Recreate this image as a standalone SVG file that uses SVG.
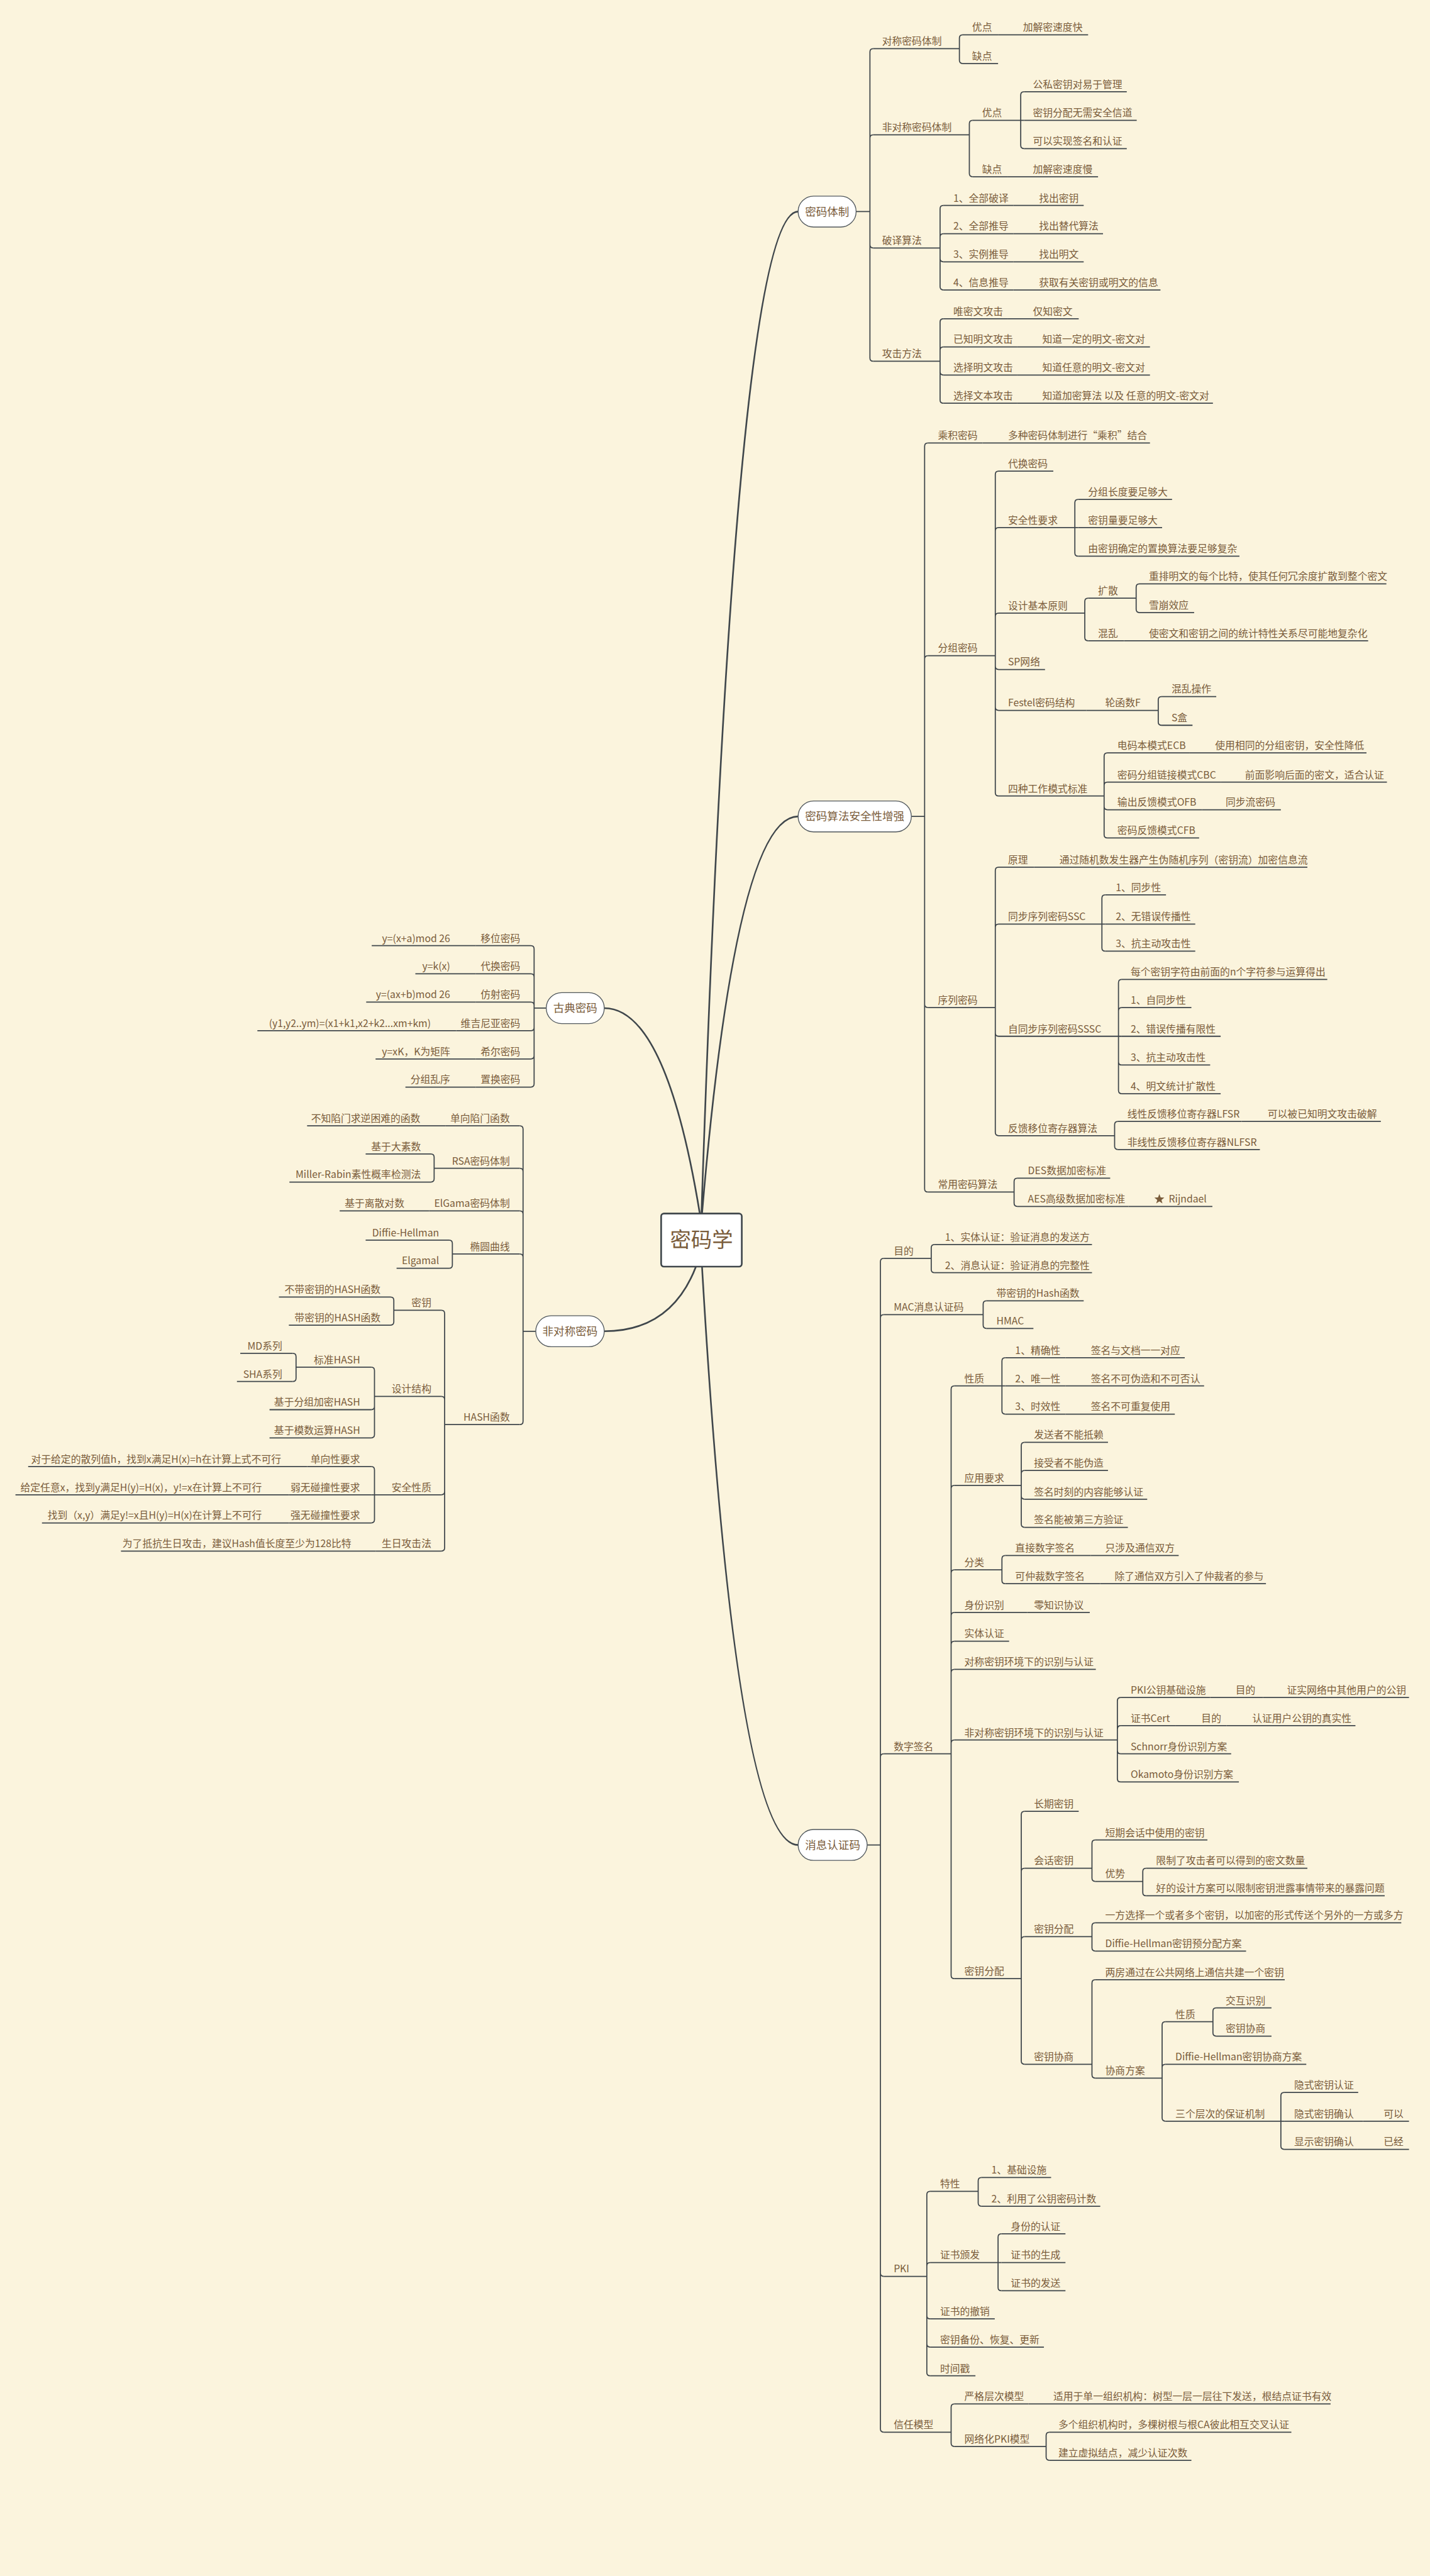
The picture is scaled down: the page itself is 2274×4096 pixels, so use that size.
<svg xmlns="http://www.w3.org/2000/svg" width="2274" height="4096" viewBox="0 0 2274 4096">
<style>
text{font-family:"Noto Sans CJK SC","Noto Sans",sans-serif;font-size:18px;fill:#7a5c3b}
.e{text-anchor:end}
.m{font-size:20px;text-anchor:middle}
.root{font-size:38px;text-anchor:middle}
path{fill:none;stroke:#3f464b;stroke-width:2}
.cv{stroke-width:3}
.pill{fill:#fff;stroke:#50575c;stroke-width:1.5}
.rootbox{fill:#fff;stroke:#3f464b;stroke-width:3}
.star{fill:#7a5c3b}
</style>
<rect width="2274" height="4096" fill="#fbf4dd"/>
<g transform="scale(0.87833)">
<g id="connectors">
<path class="cv" d="M1270 2197Q1331 383 1445 383M1271 2197Q1332 1478 1445 1478M1271 2293Q1332 3340 1445 3340M1267 2197Q1206 1825 1094 1825M1260 2293Q1215 2410 1094 2410"/>
<path d="M1550 383H1575M1575 383V94Q1575 88 1581 88M1575 383V250Q1575 244 1581 244M1575 383V443Q1575 449 1581 449M1575 383V648Q1575 654 1581 654"/>
<path d="M1737 88V69Q1737 63 1743 63M1737 88V109Q1737 115 1743 115"/>
<path d="M1755 244V224Q1755 218 1761 218M1755 244V314Q1755 320 1761 320"/>
<path d="M1848 218V172Q1848 166 1854 166M1848 218H1854M1848 218V263Q1848 269 1854 269"/>
<path d="M1702 449V378Q1702 372 1708 372M1702 449V429Q1702 423 1708 423M1702 449V468Q1702 474 1708 474M1702 449V519Q1702 525 1708 525"/>
<path d="M1702 654V583Q1702 577 1708 577M1702 654V634Q1702 628 1708 628M1702 654V673Q1702 679 1708 679M1702 654V724Q1702 730 1708 730"/>
<path d="M1650 1478H1674M1674 1478V808Q1674 802 1680 802M1674 1478V1193Q1674 1187 1680 1187M1674 1478V1818Q1674 1824 1680 1824M1674 1478V2152Q1674 2158 1680 2158"/>
<path d="M1802 1187V859Q1802 853 1808 853M1802 1187V961Q1802 955 1808 955M1802 1187V1116Q1802 1110 1808 1110M1802 1187V1206Q1802 1212 1808 1212M1802 1187V1280Q1802 1286 1808 1286M1802 1187V1435Q1802 1441 1808 1441"/>
<path d="M1946 955V910Q1946 904 1952 904M1946 955H1952M1946 955V1001Q1946 1007 1952 1007"/>
<path d="M1964 1110V1089Q1964 1083 1970 1083M1964 1110V1154Q1964 1160 1970 1160"/>
<path d="M2057 1083V1063Q2057 1057 2063 1057M2057 1083V1103Q2057 1109 2063 1109"/>
<path d="M2097 1286V1267Q2097 1261 2103 1261M2097 1286V1307Q2097 1313 2103 1313"/>
<path d="M1999 1441V1369Q1999 1363 2005 1363M1999 1441V1422Q1999 1416 2005 1416M1999 1441V1460Q1999 1466 2005 1466M1999 1441V1511Q1999 1517 2005 1517"/>
<path d="M1802 1824V1576Q1802 1570 1808 1570M1802 1824V1679Q1802 1673 1808 1673M1802 1824V1870Q1802 1876 1808 1876M1802 1824V2050Q1802 2056 1808 2056"/>
<path d="M1995 1673V1626Q1995 1620 2001 1620M1995 1673H2001M1995 1673V1716Q1995 1722 2001 1722"/>
<path d="M2025 1876V1779Q2025 1773 2031 1773M2025 1876V1830Q2025 1824 2031 1824M2025 1876H2031M2025 1876V1922Q2025 1928 2031 1928M2025 1876V1974Q2025 1980 2031 1980"/>
<path d="M2018 2056V2036Q2018 2030 2024 2030M2018 2056V2075Q2018 2081 2024 2081"/>
<path d="M1836 2158V2139Q1836 2133 1842 2133M1836 2158V2178Q1836 2184 1842 2184"/>
<path d="M1570 3340H1594M1594 3340V2284Q1594 2278 1600 2278M1594 3340V2386Q1594 2380 1600 2380M1594 3340V3181Q1594 3175 1600 3175M1594 3340V4115Q1594 4121 1600 4121M1594 3340V4397Q1594 4403 1600 4403"/>
<path d="M1686 2278V2259Q1686 2253 1692 2253M1686 2278V2298Q1686 2304 1692 2304"/>
<path d="M1780 2380V2361Q1780 2355 1786 2355M1780 2380V2399Q1780 2405 1786 2405"/>
<path d="M1722 3175V2515Q1722 2509 1728 2509M1722 3175V2695Q1722 2689 1728 2689M1722 3175V2848Q1722 2842 1728 2842M1722 3175V2925Q1722 2919 1728 2919M1722 3175V2977Q1722 2971 1728 2971M1722 3175V3028Q1722 3022 1728 3022M1722 3175V3156Q1722 3150 1728 3150M1722 3175V3576Q1722 3582 1728 3582"/>
<path d="M1814 2509V2464Q1814 2458 1820 2458M1814 2509H1820M1814 2509V2554Q1814 2560 1820 2560"/>
<path d="M1849 2689V2617Q1849 2611 1855 2611M1849 2689V2668Q1849 2662 1855 2662M1849 2689V2708Q1849 2714 1855 2714M1849 2689V2759Q1849 2765 1855 2765"/>
<path d="M1814 2842V2822Q1814 2816 1820 2816M1814 2842V2861Q1814 2867 1820 2867"/>
<path d="M2023 3150V3079Q2023 3073 2029 3073M2023 3150V3130Q2023 3124 2029 3124M2023 3150V3169Q2023 3175 2029 3175M2023 3150V3220Q2023 3226 2029 3226"/>
<path d="M1849 3582V3285Q1849 3279 1855 3279M1849 3582V3388Q1849 3382 1855 3382M1849 3582V3512Q1849 3506 1855 3506M1849 3582V3731Q1849 3737 1855 3737"/>
<path d="M1977 3382V3337Q1977 3331 1983 3331M1977 3382V3400Q1977 3406 1983 3406"/>
<path d="M2069 3406V3388Q2069 3382 2075 3382M2069 3406V3426Q2069 3432 2075 3432"/>
<path d="M1977 3506V3487Q1977 3481 1983 3481M1977 3506V3526Q1977 3532 1983 3532"/>
<path d="M1977 3737V3590Q1977 3584 1983 3584M1977 3737V3756Q1977 3762 1983 3762"/>
<path d="M2104 3762V3666Q2104 3660 2110 3660M2104 3762V3743Q2104 3737 2110 3737M2104 3762V3834Q2104 3840 2110 3840"/>
<path d="M2196 3660V3641Q2196 3635 2202 3635M2196 3660V3680Q2196 3686 2202 3686"/>
<path d="M2319 3840V3794Q2319 3788 2325 3788M2319 3840H2325M2319 3840V3885Q2319 3891 2325 3891"/>
<path d="M1678 4121V3973Q1678 3967 1684 3967M1678 4121V4102Q1678 4096 1684 4096M1678 4121V4192Q1678 4198 1684 4198M1678 4121V4243Q1678 4249 1684 4249M1678 4121V4295Q1678 4301 1684 4301"/>
<path d="M1771 3967V3948Q1771 3942 1777 3942M1771 3967V3988Q1771 3994 1777 3994"/>
<path d="M1807 4096V4050Q1807 4044 1813 4044M1807 4096H1813M1807 4096V4141Q1807 4147 1813 4147"/>
<path d="M1722 4403V4358Q1722 4352 1728 4352M1722 4403V4423Q1722 4429 1728 4429"/>
<path d="M1894 4429V4409Q1894 4403 1900 4403M1894 4429V4448Q1894 4454 1900 4454"/>
<path d="M989 1825H967M967 1825V1718Q967 1712 961 1712M967 1825V1769Q967 1763 961 1763M967 1825V1820Q967 1814 961 1814M967 1825V1860Q967 1866 961 1866M967 1825V1911Q967 1917 961 1917M967 1825V1962Q967 1968 961 1968"/>
<path d="M970 2410H947M947 2410V2044Q947 2038 941 2038M947 2410V2121Q947 2115 941 2115M947 2410V2198Q947 2192 941 2192M947 2410V2276Q947 2270 941 2270M947 2410V2573Q947 2579 941 2579"/>
<path d="M786 2115V2095Q786 2089 780 2089M786 2115V2134Q786 2140 780 2140"/>
<path d="M819 2270V2251Q819 2245 813 2245M819 2270V2290Q819 2296 813 2296"/>
<path d="M805 2579V2378Q805 2372 799 2372M805 2579V2534Q805 2528 799 2528M805 2579V2700Q805 2706 799 2706M805 2579V2802Q805 2808 799 2808"/>
<path d="M713 2372V2354Q713 2348 707 2348M713 2372V2393Q713 2399 707 2399"/>
<path d="M678 2528V2481Q678 2475 672 2475M678 2528V2546Q678 2552 672 2552M678 2528V2597Q678 2603 672 2603"/>
<path d="M536 2475V2456Q536 2450 530 2450M536 2475V2495Q536 2501 530 2501"/>
<path d="M678 2706V2661Q678 2655 672 2655M678 2706H672M678 2706V2751Q678 2757 672 2757"/>
</g>

<g id="root"><rect class="rootbox" x="1197" y="2197" width="146" height="96" rx="5"/><text class="root" x="1270" y="2258">密码学</text></g>

<!-- 密码体制 -->
<g id="mmtz"><rect class="pill" x="1445" y="355" width="105" height="56" rx="28"/><text class="m" x="1497.5" y="390">密码体制</text></g>
<g id="mmtz-1"><text x="1597" y="81">对称密码体制</text><path d="M1581 88H1737"/></g>
<g id="mmtz-1-1"><text x="1760" y="56">优点</text><path d="M1743 63H1807"/></g>
<g id="mmtz-1-1-1"><text x="1852" y="56">加解密速度快</text><path d="M1807 63H1970"/></g>
<g id="mmtz-1-2"><text x="1760" y="108">缺点</text><path d="M1743 115H1807"/></g>
<g id="mmtz-2"><text x="1597" y="237">非对称密码体制</text><path d="M1581 244H1755"/></g>
<g id="mmtz-2-1"><text x="1778" y="211">优点</text><path d="M1761 218H1848"/></g>
<g id="mmtz-2-1-1"><text x="1870" y="159">公私密钥对易于管理</text><path d="M1854 166H2040"/></g>
<g id="mmtz-2-1-2"><text x="1870" y="211">密钥分配无需安全信道</text><path d="M1854 218H2058"/></g>
<g id="mmtz-2-1-3"><text x="1870" y="262">可以实现签名和认证</text><path d="M1854 269H2040"/></g>
<g id="mmtz-2-2"><text x="1778" y="313">缺点</text><path d="M1761 320H1824"/></g>
<g id="mmtz-2-2-1"><text x="1870" y="313">加解密速度慢</text><path d="M1824 320H1988"/></g>
<g id="mmtz-3"><text x="1597" y="442">破译算法</text><path d="M1581 449H1702"/></g>
<g id="mmtz-3-1"><text x="1726" y="365">1、全部破译</text><path d="M1708 372H1835"/></g>
<g id="mmtz-3-1-1"><text x="1881" y="365">找出密钥</text><path d="M1835 372H1962"/></g>
<g id="mmtz-3-2"><text x="1726" y="416">2、全部推导</text><path d="M1708 423H1835"/></g>
<g id="mmtz-3-2-1"><text x="1881" y="416">找出替代算法</text><path d="M1835 423H1997"/></g>
<g id="mmtz-3-3"><text x="1726" y="467">3、实例推导</text><path d="M1708 474H1835"/></g>
<g id="mmtz-3-3-1"><text x="1881" y="467">找出明文</text><path d="M1835 474H1962"/></g>
<g id="mmtz-3-4"><text x="1726" y="518">4、信息推导</text><path d="M1708 525H1835"/></g>
<g id="mmtz-3-4-1"><text x="1881" y="518">获取有关密钥或明文的信息</text><path d="M1835 525H2101"/></g>
<g id="mmtz-4"><text x="1597" y="647">攻击方法</text><path d="M1581 654H1702"/></g>
<g id="mmtz-4-1"><text x="1726" y="570">唯密文攻击</text><path d="M1708 577H1824"/></g>
<g id="mmtz-4-1-1"><text x="1870" y="570">仅知密文</text><path d="M1824 577H1953"/></g>
<g id="mmtz-4-2"><text x="1726" y="621">已知明文攻击</text><path d="M1708 628H1842"/></g>
<g id="mmtz-4-2-1"><text x="1887" y="621">知道一定的明文-密文对</text><path d="M1842 628H2082"/></g>
<g id="mmtz-4-3"><text x="1726" y="672">选择明文攻击</text><path d="M1708 679H1842"/></g>
<g id="mmtz-4-3-1"><text x="1887" y="672">知道任意的明文-密文对</text><path d="M1842 679H2082"/></g>
<g id="mmtz-4-4"><text x="1726" y="723">选择文本攻击</text><path d="M1708 730H1842"/></g>
<g id="mmtz-4-4-1"><text x="1887" y="723">知道加密算法 以及 任意的明文-密文对</text><path d="M1842 730H2196"/></g>

<!-- 密码算法安全性增强 -->
<g id="aqzq"><rect class="pill" x="1445" y="1450" width="205" height="56" rx="28"/><text class="m" x="1547.5" y="1485">密码算法安全性增强</text></g>
<g id="aqzq-1"><text x="1698" y="795">乘积密码</text><path d="M1680 802H1779"/></g>
<g id="aqzq-1-1"><text x="1825" y="795">多种密码体制进行“乘积”结合</text><path d="M1779 802H2082"/></g>
<g id="aqzq-2"><text x="1698" y="1180">分组密码</text><path d="M1680 1187H1802"/></g>
<g id="aqzq-2-1"><text x="1825" y="846">代换密码</text><path d="M1808 853H1907"/></g>
<g id="aqzq-2-2"><text x="1825" y="948">安全性要求</text><path d="M1808 955H1946"/></g>
<g id="aqzq-2-2-1"><text x="1970" y="897">分组长度要足够大</text><path d="M1952 904H2122"/></g>
<g id="aqzq-2-2-2"><text x="1970" y="948">密钥量要足够大</text><path d="M1952 955H2104"/></g>
<g id="aqzq-2-2-3"><text x="1970" y="1000">由密钥确定的置换算法要足够复杂</text><path d="M1952 1007H2244"/></g>
<g id="aqzq-2-3"><text x="1825" y="1103">设计基本原则</text><path d="M1808 1110H1964"/></g>
<g id="aqzq-2-3-1"><text x="1988" y="1076">扩散</text><path d="M1970 1083H2057"/></g>
<g id="aqzq-2-3-1-1"><text x="2080" y="1050">重排明文的每个比特，使其任何冗余度扩散到整个密文</text><path d="M2063 1057H2510"/></g>
<g id="aqzq-2-3-1-2"><text x="2080" y="1102">雪崩效应</text><path d="M2063 1109H2162"/></g>
<g id="aqzq-2-3-2"><text x="1988" y="1153">混乱</text><path d="M1970 1160H2035"/></g>
<g id="aqzq-2-3-2-1"><text x="2080" y="1153">使密文和密钥之间的统计特性关系尽可能地复杂化</text><path d="M2035 1160H2477"/></g>
<g id="aqzq-2-4"><text x="1825" y="1205">SP网络</text><path d="M1808 1212H1892"/></g>
<g id="aqzq-2-5"><text x="1825" y="1279">Festel密码结构</text><path d="M1808 1286H1967"/></g>
<g id="aqzq-2-5-1"><text x="2001" y="1279">轮函数F</text><path d="M1967 1286H2097"/></g>
<g id="aqzq-2-5-1-1"><text x="2121" y="1254">混乱操作</text><path d="M2103 1261H2202"/></g>
<g id="aqzq-2-5-1-2"><text x="2121" y="1306">S盒</text><path d="M2103 1313H2159"/></g>
<g id="aqzq-2-6"><text x="1825" y="1434">四种工作模式标准</text><path d="M1808 1441H1999"/></g>
<g id="aqzq-2-6-1"><text x="2023" y="1356">电码本模式ECB</text><path d="M2005 1363H2154"/></g>
<g id="aqzq-2-6-1-1"><text x="2200" y="1356">使用相同的分组密钥，安全性降低</text><path d="M2154 1363H2474"/></g>
<g id="aqzq-2-6-2"><text x="2023" y="1409">密码分组链接模式CBC</text><path d="M2005 1416H2210"/></g>
<g id="aqzq-2-6-2-1"><text x="2254" y="1409">前面影响后面的密文，适合认证</text><path d="M2210 1416H2511"/></g>
<g id="aqzq-2-6-3"><text x="2023" y="1459">输出反馈模式OFB</text><path d="M2005 1466H2176"/></g>
<g id="aqzq-2-6-3-1"><text x="2219" y="1459">同步流密码</text><path d="M2176 1466H2319"/></g>
<g id="aqzq-2-6-4"><text x="2023" y="1510">密码反馈模式CFB</text><path d="M2005 1517H2171"/></g>
<g id="aqzq-3"><text x="1698" y="1817">序列密码</text><path d="M1680 1824H1802"/></g>
<g id="aqzq-3-1"><text x="1825" y="1563">原理</text><path d="M1808 1570H1872"/></g>
<g id="aqzq-3-1-1"><text x="1918" y="1563">通过随机数发生器产生伪随机序列（密钥流）加密信息流</text><path d="M1872 1570H2367"/></g>
<g id="aqzq-3-2"><text x="1825" y="1666">同步序列密码SSC</text><path d="M1808 1673H1995"/></g>
<g id="aqzq-3-2-1"><text x="2020" y="1613">1、同步性</text><path d="M2001 1620H2111"/></g>
<g id="aqzq-3-2-2"><text x="2020" y="1666">2、无错误传播性</text><path d="M2001 1673H2164"/></g>
<g id="aqzq-3-2-3"><text x="2020" y="1715">3、抗主动攻击性</text><path d="M2001 1722H2164"/></g>
<g id="aqzq-3-3"><text x="1825" y="1869">自同步序列密码SSSC</text><path d="M1808 1876H2025"/></g>
<g id="aqzq-3-3-1"><text x="2047" y="1766">每个密钥字符由前面的n个字符参与运算得出</text><path d="M2031 1773H2403"/></g>
<g id="aqzq-3-3-2"><text x="2047" y="1817">1、自同步性</text><path d="M2031 1824H2157"/></g>
<g id="aqzq-3-3-3"><text x="2047" y="1869">2、错误传播有限性</text><path d="M2031 1876H2210"/></g>
<g id="aqzq-3-3-4"><text x="2047" y="1921">3、抗主动攻击性</text><path d="M2031 1928H2191"/></g>
<g id="aqzq-3-3-5"><text x="2047" y="1973">4、明文统计扩散性</text><path d="M2031 1980H2210"/></g>
<g id="aqzq-3-4"><text x="1825" y="2049">反馈移位寄存器算法</text><path d="M1808 2056H2018"/></g>
<g id="aqzq-3-4-1"><text x="2041" y="2023">线性反馈移位寄存器LFSR</text><path d="M2024 2030H2248"/></g>
<g id="aqzq-3-4-1-1"><text x="2295" y="2023">可以被已知明文攻击破解</text><path d="M2248 2030H2500"/></g>
<g id="aqzq-3-4-2"><text x="2041" y="2074">非线性反馈移位寄存器NLFSR</text><path d="M2024 2081H2281"/></g>
<g id="aqzq-4"><text x="1698" y="2151">常用密码算法</text><path d="M1680 2158H1836"/></g>
<g id="aqzq-4-1"><text x="1861" y="2126">DES数据加密标准</text><path d="M1842 2133H2010"/></g>
<g id="aqzq-4-2"><text x="1861" y="2177">AES高级数据加密标准</text><path d="M1842 2184H2043"/></g>
<g id="aqzq-4-2-1"><polygon class="star" points="2099,2161.5 2101.4,2167.8 2108,2168.1 2102.8,2172.2 2104.6,2178.7 2099,2175 2093.4,2178.7 2095.2,2172.2 2090,2168.1 2096.6,2167.8"/><text x="2116" y="2177">Rijndael</text><path d="M2043 2184H2195"/></g>

<!-- 消息认证码 -->
<g id="xxrz"><rect class="pill" x="1445" y="3312" width="125" height="56" rx="28"/><text class="m" x="1507.5" y="3347">消息认证码</text></g>
<g id="xxrz-1"><text x="1618" y="2271">目的</text><path d="M1600 2278H1686"/></g>
<g id="xxrz-1-1"><text x="1711" y="2246">1、实体认证：验证消息的发送方</text><path d="M1692 2253H1977"/></g>
<g id="xxrz-1-2"><text x="1711" y="2297">2、消息认证：验证消息的完整性</text><path d="M1692 2304H1977"/></g>
<g id="xxrz-2"><text x="1618" y="2373">MAC消息认证码</text><path d="M1600 2380H1780"/></g>
<g id="xxrz-2-1"><text x="1804" y="2348">带密钥的Hash函数</text><path d="M1786 2355H1962"/></g>
<g id="xxrz-2-2"><text x="1804" y="2398">HMAC</text><path d="M1786 2405H1871"/></g>
<g id="xxrz-3"><text x="1618" y="3168">数字签名</text><path d="M1600 3175H1722"/></g>
<g id="xxrz-3-1"><text x="1746" y="2502">性质</text><path d="M1728 2509H1814"/></g>
<g id="xxrz-3-1-1"><text x="1838" y="2451">1、精确性</text><path d="M1820 2458H1929"/></g>
<g id="xxrz-3-1-1-1"><text x="1975" y="2451">签名与文档一一对应</text><path d="M1929 2458H2145"/></g>
<g id="xxrz-3-1-2"><text x="1838" y="2502">2、唯一性</text><path d="M1820 2509H1929"/></g>
<g id="xxrz-3-1-2-1"><text x="1975" y="2502">签名不可伪造和不可否认</text><path d="M1929 2509H2180"/></g>
<g id="xxrz-3-1-3"><text x="1838" y="2553">3、时效性</text><path d="M1820 2560H1929"/></g>
<g id="xxrz-3-1-3-1"><text x="1975" y="2553">签名不可重复使用</text><path d="M1929 2560H2127"/></g>
<g id="xxrz-3-2"><text x="1746" y="2682">应用要求</text><path d="M1728 2689H1849"/></g>
<g id="xxrz-3-2-1"><text x="1872" y="2604">发送者不能抵赖</text><path d="M1855 2611H2006"/></g>
<g id="xxrz-3-2-2"><text x="1872" y="2655">接受者不能伪造</text><path d="M1855 2662H2006"/></g>
<g id="xxrz-3-2-3"><text x="1872" y="2707">签名时刻的内容能够认证</text><path d="M1855 2714H2077"/></g>
<g id="xxrz-3-2-4"><text x="1872" y="2758">签名能被第三方验证</text><path d="M1855 2765H2042"/></g>
<g id="xxrz-3-3"><text x="1746" y="2835">分类</text><path d="M1728 2842H1814"/></g>
<g id="xxrz-3-3-1"><text x="1838" y="2809">直接数字签名</text><path d="M1820 2816H1975"/></g>
<g id="xxrz-3-3-1-1"><text x="2001" y="2809">只涉及通信双方</text><path d="M1975 2816H2134"/></g>
<g id="xxrz-3-3-2"><text x="1838" y="2860">可仲裁数字签名</text><path d="M1820 2867H1992"/></g>
<g id="xxrz-3-3-2-1"><text x="2018" y="2860">除了通信双方引入了仲裁者的参与</text><path d="M1992 2867H2292"/></g>
<g id="xxrz-3-4"><text x="1746" y="2912">身份识别</text><path d="M1728 2919H1860"/></g>
<g id="xxrz-3-4-1"><text x="1872" y="2912">零知识协议</text><path d="M1860 2919H1973"/></g>
<g id="xxrz-3-5"><text x="1746" y="2964">实体认证</text><path d="M1728 2971H1827"/></g>
<g id="xxrz-3-6"><text x="1746" y="3015">对称密钥环境下的识别与认证</text><path d="M1728 3022H1984"/></g>
<g id="xxrz-3-7"><text x="1746" y="3143">非对称密钥环境下的识别与认证</text><path d="M1728 3150H2023"/></g>
<g id="xxrz-3-7-1"><text x="2047" y="3066">PKI公钥基础设施</text><path d="M2029 3073H2191"/></g>
<g id="xxrz-3-7-1-1"><text x="2237" y="3066">目的</text><path d="M2191 3073H2287"/></g>
<g id="xxrz-3-7-1-1-1"><text x="2330" y="3066">证实网络中其他用户的公钥</text><path d="M2287 3073H2551"/></g>
<g id="xxrz-3-7-2"><text x="2047" y="3117">证书Cert</text><path d="M2029 3124H2128"/></g>
<g id="xxrz-3-7-2-1"><text x="2175" y="3117">目的</text><path d="M2128 3124H2221"/></g>
<g id="xxrz-3-7-2-1-1"><text x="2267" y="3117">认证用户公钥的真实性</text><path d="M2221 3124H2454"/></g>
<g id="xxrz-3-7-3"><text x="2047" y="3168">Schnorr身份识别方案</text><path d="M2029 3175H2229"/></g>
<g id="xxrz-3-7-4"><text x="2047" y="3219">Okamoto身份识别方案</text><path d="M2029 3226H2243"/></g>
<g id="xxrz-3-8"><text x="1746" y="3575">密钥分配</text><path d="M1728 3582H1849"/></g>
<g id="xxrz-3-8-1"><text x="1872" y="3272">长期密钥</text><path d="M1855 3279H1953"/></g>
<g id="xxrz-3-8-2"><text x="1872" y="3375">会话密钥</text><path d="M1855 3382H1977"/></g>
<g id="xxrz-3-8-2-1"><text x="2001" y="3324">短期会话中使用的密钥</text><path d="M1983 3331H2186"/></g>
<g id="xxrz-3-8-2-2"><text x="2001" y="3399">优势</text><path d="M1983 3406H2069"/></g>
<g id="xxrz-3-8-2-2-1"><text x="2093" y="3375">限制了攻击者可以得到的密文数量</text><path d="M2075 3382H2367"/></g>
<g id="xxrz-3-8-2-2-2"><text x="2093" y="3425">好的设计方案可以限制密钥泄露事情带来的暴露问题</text><path d="M2075 3432H2507"/></g>
<g id="xxrz-3-8-3"><text x="1872" y="3499">密钥分配</text><path d="M1855 3506H1977"/></g>
<g id="xxrz-3-8-3-1"><text x="2001" y="3474">一方选择一个或者多个密钥，以加密的形式传送个另外的一方或多方</text><path d="M1983 3481H2537"/></g>
<g id="xxrz-3-8-3-2"><text x="2001" y="3525">Diffie-Hellman密钥预分配方案</text><path d="M1983 3532H2256"/></g>
<g id="xxrz-3-8-4"><text x="1872" y="3730">密钥协商</text><path d="M1855 3737H1977"/></g>
<g id="xxrz-3-8-4-1"><text x="2001" y="3577">两房通过在公共网络上通信共建一个密钥</text><path d="M1983 3584H2326"/></g>
<g id="xxrz-3-8-4-2"><text x="2001" y="3755">协商方案</text><path d="M1983 3762H2104"/></g>
<g id="xxrz-3-8-4-2-1"><text x="2128" y="3653">性质</text><path d="M2110 3660H2196"/></g>
<g id="xxrz-3-8-4-2-1-1"><text x="2219" y="3628">交互识别</text><path d="M2202 3635H2302"/></g>
<g id="xxrz-3-8-4-2-1-2"><text x="2219" y="3679">密钥协商</text><path d="M2202 3686H2302"/></g>
<g id="xxrz-3-8-4-2-2"><text x="2128" y="3730">Diffie-Hellman密钥协商方案</text><path d="M2110 3737H2365"/></g>
<g id="xxrz-3-8-4-2-3"><text x="2128" y="3833">三个层次的保证机制</text><path d="M2110 3840H2319"/></g>
<g id="xxrz-3-8-4-2-3-1"><text x="2343" y="3781">隐式密钥认证</text><path d="M2325 3788H2459"/></g>
<g id="xxrz-3-8-4-2-3-2"><text x="2343" y="3833">隐式密钥确认</text><path d="M2325 3840H2468"/></g>
<g id="xxrz-3-8-4-2-3-2-1"><text x="2505" y="3833">可以</text><path d="M2468 3840H2551"/></g>
<g id="xxrz-3-8-4-2-3-3"><text x="2343" y="3884">显示密钥确认</text><path d="M2325 3891H2457"/></g>
<g id="xxrz-3-8-4-2-3-3-1"><text x="2505" y="3884">已经</text><path d="M2457 3891H2551"/></g>
<g id="xxrz-4"><text x="1618" y="4114">PKI</text><path d="M1600 4121H1678"/></g>
<g id="xxrz-4-1"><text x="1702" y="3960">特性</text><path d="M1684 3967H1771"/></g>
<g id="xxrz-4-1-1"><text x="1795" y="3935">1、基础设施</text><path d="M1777 3942H1903"/></g>
<g id="xxrz-4-1-2"><text x="1795" y="3987">2、利用了公钥密码计数</text><path d="M1777 3994H1992"/></g>
<g id="xxrz-4-2"><text x="1702" y="4089">证书颁发</text><path d="M1684 4096H1807"/></g>
<g id="xxrz-4-2-1"><text x="1830" y="4037">身份的认证</text><path d="M1813 4044H1929"/></g>
<g id="xxrz-4-2-2"><text x="1830" y="4089">证书的生成</text><path d="M1813 4096H1929"/></g>
<g id="xxrz-4-2-3"><text x="1830" y="4140">证书的发送</text><path d="M1813 4147H1929"/></g>
<g id="xxrz-4-3"><text x="1702" y="4191">证书的撤销</text><path d="M1684 4198H1801"/></g>
<g id="xxrz-4-4"><text x="1702" y="4242">密钥备份、恢复、更新</text><path d="M1684 4249H1890"/></g>
<g id="xxrz-4-5"><text x="1702" y="4294">时间戳</text><path d="M1684 4301H1766"/></g>
<g id="xxrz-5"><text x="1618" y="4396">信任模型</text><path d="M1600 4403H1722"/></g>
<g id="xxrz-5-1"><text x="1746" y="4345">严格层次模型</text><path d="M1728 4352H1862"/></g>
<g id="xxrz-5-1-1"><text x="1907" y="4345">适用于单一组织机构：树型一层一层往下发送，根结点证书有效</text><path d="M1862 4352H2409"/></g>
<g id="xxrz-5-2"><text x="1746" y="4422">网络化PKI模型</text><path d="M1728 4429H1894"/></g>
<g id="xxrz-5-2-1"><text x="1916" y="4396">多个组织机构时，多棵树根与根CA彼此相互交叉认证</text><path d="M1900 4403H2338"/></g>
<g id="xxrz-5-2-2"><text x="1916" y="4447">建立虚拟结点，减少认证次数</text><path d="M1900 4454H2157"/></g>

<!-- 古典密码 -->
<g id="gdmm"><rect class="pill" x="989" y="1797" width="105" height="56" rx="28"/><text class="m" x="1041.5" y="1832">古典密码</text></g>
<g id="gdmm-1"><text class="e" x="942" y="1705">移位密码</text><path d="M861 1712H961"/></g>
<g id="gdmm-1-1"><text class="e" x="815" y="1705">y=(x+a)mod 26</text><path d="M673 1712H861"/></g>
<g id="gdmm-2"><text class="e" x="942" y="1756">代换密码</text><path d="M861 1763H961"/></g>
<g id="gdmm-2-1"><text class="e" x="815" y="1756">y=k(x)</text><path d="M752 1763H861"/></g>
<g id="gdmm-3"><text class="e" x="942" y="1807">仿射密码</text><path d="M861 1814H961"/></g>
<g id="gdmm-3-1"><text class="e" x="815" y="1807">y=(ax+b)mod 26</text><path d="M663 1814H861"/></g>
<g id="gdmm-4"><text class="e" x="942" y="1859">维吉尼亚密码</text><path d="M826 1866H961"/></g>
<g id="gdmm-4-1"><text class="e" x="780" y="1859">(y1,y2..ym)=(x1+k1,x2+k2...xm+km)</text><path d="M466 1866H826"/></g>
<g id="gdmm-5"><text class="e" x="942" y="1910">希尔密码</text><path d="M861 1917H961"/></g>
<g id="gdmm-5-1"><text class="e" x="815" y="1910">y=xK，K为矩阵</text><path d="M680 1917H861"/></g>
<g id="gdmm-6"><text class="e" x="942" y="1961">置换密码</text><path d="M861 1968H961"/></g>
<g id="gdmm-6-1"><text class="e" x="815" y="1961">分组乱序</text><path d="M734 1968H861"/></g>

<!-- 非对称密码 -->
<g id="fdc"><rect class="pill" x="970" y="2382" width="124" height="56" rx="28"/><text class="m" x="1032" y="2417">非对称密码</text></g>
<g id="fdc-1"><text class="e" x="923" y="2031">单向陷门函数</text><path d="M807 2038H941"/></g>
<g id="fdc-1-1"><text class="e" x="761" y="2031">不知陷门求逆困难的函数</text><path d="M556 2038H807"/></g>
<g id="fdc-2"><text class="e" x="923" y="2108">RSA密码体制</text><path d="M786 2115H941"/></g>
<g id="fdc-2-1"><text class="e" x="762" y="2082">基于大素数</text><path d="M662 2089H780"/></g>
<g id="fdc-2-2"><text class="e" x="762" y="2133">Miller-Rabin素性概率检测法</text><path d="M524 2140H780"/></g>
<g id="fdc-3"><text class="e" x="923" y="2185">ElGama密码体制</text><path d="M777 2192H941"/></g>
<g id="fdc-3-1"><text class="e" x="732" y="2185">基于离散对数</text><path d="M615 2192H777"/></g>
<g id="fdc-4"><text class="e" x="923" y="2263">椭圆曲线</text><path d="M819 2270H941"/></g>
<g id="fdc-4-1"><text class="e" x="795" y="2238">Diffie-Hellman</text><path d="M662 2245H813"/></g>
<g id="fdc-4-2"><text class="e" x="795" y="2289">Elgamal</text><path d="M718 2296H813"/></g>
<g id="fdc-5"><text class="e" x="923" y="2572">HASH函数</text><path d="M805 2579H941"/></g>
<g id="fdc-5-1"><text class="e" x="781" y="2365">密钥</text><path d="M713 2372H799"/></g>
<g id="fdc-5-1-1"><text class="e" x="689" y="2341">不带密钥的HASH函数</text><path d="M505 2348H707"/></g>
<g id="fdc-5-1-2"><text class="e" x="689" y="2392">带密钥的HASH函数</text><path d="M523 2399H707"/></g>
<g id="fdc-5-2"><text class="e" x="781" y="2521">设计结构</text><path d="M678 2528H799"/></g>
<g id="fdc-5-2-1"><text class="e" x="652" y="2468">标准HASH</text><path d="M536 2475H672"/></g>
<g id="fdc-5-2-1-1"><text class="e" x="511" y="2443">MD系列</text><path d="M435 2450H530"/></g>
<g id="fdc-5-2-1-2"><text class="e" x="511" y="2494">SHA系列</text><path d="M429 2501H530"/></g>
<g id="fdc-5-2-2"><text class="e" x="652" y="2545">基于分组加密HASH</text><path d="M488 2552H672"/></g>
<g id="fdc-5-2-3"><text class="e" x="652" y="2596">基于模数运算HASH</text><path d="M488 2603H672"/></g>
<g id="fdc-5-3"><text class="e" x="781" y="2699">安全性质</text><path d="M678 2706H799"/></g>
<g id="fdc-5-3-1"><text class="e" x="652" y="2648">单向性要求</text><path d="M556 2655H672"/></g>
<g id="fdc-5-3-1-1"><text class="e" x="509" y="2648">对于给定的散列值h，找到x满足H(x)=h在计算上式不可行</text><path d="M51 2655H556"/></g>
<g id="fdc-5-3-2"><text class="e" x="652" y="2699">弱无碰撞性要求</text><path d="M523 2706H672"/></g>
<g id="fdc-5-3-2-1"><text class="e" x="474" y="2699">给定任意x，找到y满足H(y)=H(x)，y!=x在计算上不可行</text><path d="M28 2706H523"/></g>
<g id="fdc-5-3-3"><text class="e" x="652" y="2750">强无碰撞性要求</text><path d="M523 2757H672"/></g>
<g id="fdc-5-3-3-1"><text class="e" x="474" y="2750">找到（x,y）满足y!=x且H(y)=H(x)在计算上不可行</text><path d="M76 2757H523"/></g>
<g id="fdc-5-4"><text class="e" x="781" y="2801">生日攻击法</text><path d="M680 2808H799"/></g>
<g id="fdc-5-4-1"><text class="e" x="636" y="2801">为了抵抗生日攻击，建议Hash值长度至少为128比特</text><path d="M219 2808H680"/></g>
</g>
</svg>
